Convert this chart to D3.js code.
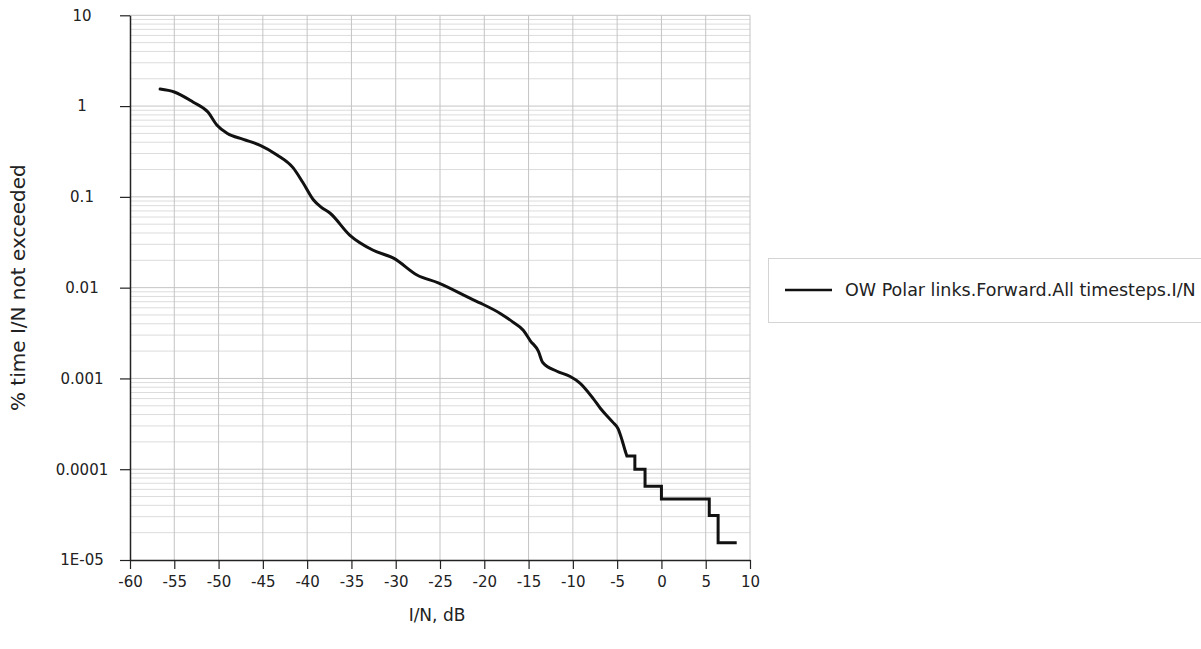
<!DOCTYPE html>
<html><head><meta charset="utf-8">
<script src="https://cdnjs.cloudflare.com/ajax/libs/d3/7.8.5/d3.min.js"></script>
<style>
body{margin:0;background:#fff;}
text{font-family:"DejaVu Sans",sans-serif;fill:#222;}
</style></head><body>
<svg id="c" width="1201" height="649"></svg>
<script>
// data
const inDb = [-56.6,-55,-52.9,-51.2,-50.2,-49,-47.2,-45.3,-43.4,-41.6,-40.5,-39.3,-38.5,-37.4,-35.2,-32.6,-30.2,-27.6,-25.2,-21.3,-20.5,-18.2,-16.8,-15.6,-14.8,-13.9,-13.4,-11.8,-10.3,-9.2,-7.7,-6.9,-5.5,-4.9,-4.45,-4.1,-3.9,-3.0,-3.0,-1.85,-1.85,0.0,0.0,5.4,5.4,6.4,6.4,8.5];
const pctTime = [1.54,1.43,1.11,0.86,0.62,0.5,0.43,0.37,0.29,0.21,0.145,0.093,0.078,0.066,0.038,0.026,0.021,0.0138,0.0113,0.0074,0.0068,0.0052,0.0042,0.0034,0.0026,0.002,0.0015,0.0012,0.00105,0.00089,0.0006,0.00047,0.00033,0.00028,0.00021,0.00016,0.00014,0.00014,0.0001,0.0001,0.000065,0.000065,0.000047,0.000047,0.000031,0.000031,0.0000155,0.0000155];
const xTicks = [-60,-55,-50,-45,-40,-35,-30,-25,-20,-15,-10,-5,0,5,10];
const xTickLabels = ["-60","-55","-50","-45","-40","-35","-30","-25","-20","-15","-10","-5","0","5","10"];
const yTicks = [10,1,0.1,0.01,0.001,0.0001,0.00001];
const yTickLabels = ["10","1","0.1","0.01","0.001","0.0001","1E-05"];
const seriesName = "OW Polar links.Forward.All timesteps.I/N";
const xTitle = "I/N, dB";
const yTitle = "% time I/N not exceeded";
const smoothCount = 36; // points drawn as a smooth curve; the rest are stepped

const svg = d3.select("#c");
const L=130, R=750, T=15.3, B=560;
const x = d3.scaleLinear().domain([-60,10]).range([L,R]);
const y = d3.scaleLog().domain([1e-5,10]).range([B,T]);

// minor grid
const minor=[];
for(let e=-5;e<1;e++){for(let m=2;m<=9;m++){minor.push(m*Math.pow(10,e));}}
svg.append("g").selectAll("line").data(minor).join("line")
  .attr("x1",L).attr("x2",R).attr("y1",d=>y(d)).attr("y2",d=>y(d))
  .attr("stroke","#dcdcdc").attr("stroke-width",1);
svg.append("g").selectAll("line").data(yTicks.slice(0,-1)).join("line")
  .attr("x1",L).attr("x2",R).attr("y1",d=>y(d)).attr("y2",d=>y(d))
  .attr("stroke","#c4c4c4").attr("stroke-width",1);
svg.append("g").selectAll("line").data(xTicks.slice(1)).join("line")
  .attr("x1",d=>x(d)).attr("x2",d=>x(d)).attr("y1",T).attr("y2",B)
  .attr("stroke","#c4c4c4").attr("stroke-width",1);

// axes
const xa = svg.append("g").attr("transform",`translate(0,${B})`)
  .call(d3.axisBottom(x).tickValues(xTicks).tickFormat((d,i)=>xTickLabels[i]).tickSize(9).tickSizeOuter(0).tickPadding(7));
const ya = svg.append("g").attr("transform",`translate(${L},0)`)
  .call(d3.axisLeft(y).tickValues(yTicks).tickFormat((d,i)=>yTickLabels[i]).tickSize(10).tickSizeOuter(0).tickPadding(8));
[xa,ya].forEach(a=>{
  a.select(".domain").attr("stroke","#222").attr("stroke-width",1.5);
  a.selectAll(".tick line").attr("stroke","#222").attr("stroke-width",1.2);
  a.selectAll("text").attr("font-size",15).attr("fill","#222")
   .attr("font-family","'DejaVu Sans',sans-serif");
});
// y tick labels are centred on a common column
ya.selectAll(".tick text").attr("text-anchor","middle").attr("x",82-L);

// line: smooth part + stepped tail
const pts = inDb.map((v,i)=>[v,pctTime[i]]);
const smooth = d3.line().x(d=>x(d[0])).y(d=>y(d[1])).curve(d3.curveMonotoneX);
const straight = d3.line().x(d=>x(d[0])).y(d=>y(d[1])).curve(d3.curveLinear);
const lineStyle = p=>p.attr("fill","none").attr("stroke","#111").attr("stroke-width",3)
  .attr("stroke-linejoin","round").attr("stroke-linecap","round");
svg.append("path").datum(pts.slice(0,smoothCount)).attr("d",smooth).call(lineStyle);
svg.append("path").datum(pts.slice(smoothCount-1)).attr("d",straight).call(lineStyle)
  .attr("stroke-linecap","butt").attr("stroke-linejoin","miter");

// titles
svg.append("text").attr("x",(L+R)/2-3).attr("y",621).attr("text-anchor","middle")
  .attr("font-size",17).text(xTitle);
svg.append("text").attr("transform",`translate(25,${(T+B)/2}) rotate(-90)`)
  .attr("text-anchor","middle").attr("font-size",20).text(yTitle);

// legend
const lg = svg.append("g");
lg.append("rect").attr("x",768.5).attr("y",258.5).attr("width",440).attr("height",64)
  .attr("fill","#fff").attr("stroke","#d4d4d4");
lg.append("line").attr("x1",785).attr("x2",832).attr("y1",290).attr("y2",290)
  .attr("stroke","#111").attr("stroke-width",2.5);
lg.append("text").attr("x",845).attr("y",290).attr("dy","0.35em")
  .attr("font-size",17.5).attr("font-family","'Open Sans',sans-serif").text(seriesName);
</script></body></html>
